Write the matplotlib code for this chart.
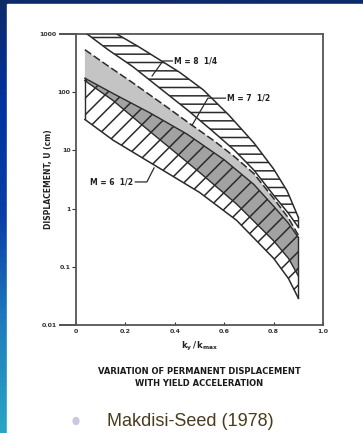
#!/usr/bin/env python3

import numpy as np
import matplotlib
matplotlib.use('Agg')
import matplotlib.pyplot as plt
from matplotlib.patches import Rectangle, Circle
from matplotlib.colors import LinearSegmentedColormap

# Band edges (x = ky/kmax, y = displacement U in cm)
m825_upper_x = [0.165, 0.25, 0.33, 0.42, 0.515, 0.62, 0.72, 0.80, 0.855, 0.90]
m825_upper_y = [1000, 617, 380, 219, 110, 40, 13.5, 4.8, 2.0, 0.71]
m825_lower_x = [0.045, 0.13, 0.23, 0.34, 0.45, 0.55, 0.64, 0.72, 0.80, 0.86, 0.90]
m825_lower_y = [1000, 537, 275, 117, 50, 22, 10.2, 4.6, 1.7, 0.83, 0.48]

m75_upper_x = [0.036, 0.13, 0.23, 0.35, 0.47, 0.56, 0.64, 0.72, 0.80, 0.86, 0.90]
m75_upper_y = [537, 282, 145, 63, 27, 14.5, 7.9, 4.0, 1.5, 0.69, 0.35]
m75_lower_x = [0.036, 0.15, 0.30, 0.50, 0.65, 0.80, 0.86, 0.90]
m75_lower_y = [158, 72, 21, 4.2, 1.2, 0.28, 0.14, 0.07]

m65_upper_x = [0.036, 0.15, 0.30, 0.45, 0.60, 0.72, 0.80, 0.86, 0.90]
m65_upper_y = [174, 95, 44, 19, 6.9, 2.6, 1.1, 0.56, 0.32]
m65_lower_x = [0.036, 0.15, 0.32, 0.50, 0.65, 0.80, 0.86, 0.90]
m65_lower_y = [34, 15, 5.5, 1.9, 0.63, 0.14, 0.063, 0.029]

x_ticks = [0, 0.2, 0.4, 0.6, 0.8, 1.0]
x_tick_labels = ['0', '0.2', '0.4', '0.6', '0.8', '1.0']
y_ticks = [0.01, 0.1, 1, 10, 100, 1000]
y_tick_labels = ['0.01', '0.1', '1', '10', '100', '1000']

# label text position, then pointer line
label_825 = ('M = 8  1/4', 0.395, 344, [0.39, 0.352, 0.308], [344, 344, 190])
label_75 = ('M = 7  1/2', 0.612, 79, [0.605, 0.534, 0.470], [79, 79, 27])
label_65 = ('M = 6  1/2', 0.232, 2.87, [0.24, 0.287, 0.316], [2.87, 2.87, 5.0])

line_col = '#2b2b2b'
plt.rcParams['hatch.linewidth'] = 1.1

fig = plt.figure(figsize=(3.63, 4.33), dpi=100)

# blue slide background + white panel
bg = fig.add_axes([0, 0, 1, 1], zorder=-10)
bg.set_axis_off()
cmap = LinearSegmentedColormap.from_list(
    'slide', ['#0d2a6b', '#0033a0', '#0a3ea6', '#1f7dbd', '#2aa6c4'])
grad = np.linspace(0, 1, 256).reshape(-1, 1)
bg.imshow(grad, aspect='auto', cmap=cmap, extent=[0, 1, 0, 1], origin='upper')
bg.add_patch(Rectangle((7 / 363, 0), 1, 1 - 4 / 433, color='white',
                       transform=bg.transAxes))
bg.add_patch(Circle((76 / 363, 12 / 433), 0.008, color='#c8c8e6',
                    transform=bg.transAxes))
bg.set_xlim(0, 1)
bg.set_ylim(0, 1)

ax = fig.add_axes([76 / 363, 1 - 325 / 433, 247 / 363, 291 / 433])
ax.set_yscale('log')
ax.set_xlim(0, 1.0)
ax.set_ylim(0.01, 1000)


def band(ux, uy, lx, ly):
    return list(ux) + list(lx[::-1]), list(uy) + list(ly[::-1])


# M = 7 1/2 : grey band
gx, gy = band(m75_upper_x, m75_upper_y, m75_lower_x, m75_lower_y)
grey = ax.fill(gx, gy, facecolor='#c4c4c4', edgecolor='none', zorder=1)[0]

# M = 6 1/2 : darker where it overlaps the grey band, diagonal hatch
hx, hy = band(m65_upper_x, m65_upper_y, m65_lower_x, m65_lower_y)
dark = ax.fill(hx, hy, facecolor='#a2a2a2', edgecolor='none', zorder=1.5)[0]
dark.set_clip_path(grey)
ax.fill(hx, hy, facecolor='none', edgecolor=line_col, linewidth=0,
        hatch='//', zorder=2)

# M = 8 1/4 : horizontal hatch
tx, ty = band(m825_upper_x, m825_upper_y, m825_lower_x, m825_lower_y)
ax.fill(tx, ty, facecolor='white', edgecolor=line_col, linewidth=0,
        hatch='--', zorder=2)

# band outlines
ax.plot(m825_upper_x, m825_upper_y, color=line_col, lw=1.1, zorder=3)
ax.plot(m825_lower_x, m825_lower_y, color=line_col, lw=1.1, zorder=3)
ax.plot(m75_upper_x, m75_upper_y, color=line_col, lw=1.1, zorder=3,
        dashes=(5, 2))
ax.plot(m75_lower_x, m75_lower_y, color=line_col, lw=1.0, zorder=3)
ax.plot(m65_upper_x, m65_upper_y, color=line_col, lw=1.0, zorder=3)
ax.plot(m65_lower_x, m65_lower_y, color=line_col, lw=1.1, zorder=3)
# end caps
ax.plot([m825_upper_x[-1], m825_lower_x[-1]], [m825_upper_y[-1], m825_lower_y[-1]],
        color=line_col, lw=1.0, zorder=3)
ax.plot([m65_upper_x[0], m65_lower_x[0]], [m65_upper_y[0], m65_lower_y[0]],
        color=line_col, lw=1.0, zorder=3)
ax.plot([m65_upper_x[-1], m65_lower_x[-1]], [m65_upper_y[-1], m65_lower_y[-1]],
        color=line_col, lw=1.0, zorder=3)

# magnitude labels
for text, tx_, ty_, px, py in [label_825, label_75, label_65]:
    ha = 'right' if text.startswith('M = 6') else 'left'
    ax.text(tx_, ty_, text, fontsize=5.5, fontweight='bold', ha=ha,
            va='center', color='#222222', zorder=4)
    ax.plot(px, py, color=line_col, lw=0.9, zorder=4)

# axes styling
for s in ax.spines.values():
    s.set_color('#555555')
    s.set_linewidth(1.3)
ax.set_xticks(x_ticks)
ax.set_xticklabels(x_tick_labels)
ax.set_yticks(y_ticks)
ax.set_yticklabels(y_tick_labels)
ax.yaxis.set_minor_locator(matplotlib.ticker.NullLocator())
ax.tick_params(axis='y', direction='out', length=3, width=0.8, pad=1,
               labelsize=4.5, colors='#333333')
ax.tick_params(axis='x', direction='in', length=2, width=0.8, pad=3,
               labelsize=4.5, colors='#333333')
for lab in ax.get_xticklabels() + ax.get_yticklabels():
    lab.set_fontweight('bold')
# the end ticks (0.01 and 1000) run out further, as in the original
for tick, val in zip(ax.yaxis.get_major_ticks(), y_ticks):
    if val in (0.01, 1000):
        tick.set_pad(11)
        tick.tick1line.set_markersize(12)
        tick.tick1line.set_markeredgewidth(1.2)
        tick.tick1line.set_color('#555555')

ax.set_ylabel('DISPLACEMENT, U (cm)', fontsize=5.5, fontweight='bold',
              color='#222222')
ax.yaxis.set_label_coords(-0.093, 0.5)
ax.set_xlabel(r'$\mathbf{k_y\,/\,k_{max}}$', fontsize=6, color='#222222',
              labelpad=4)

fig.text(199 / 363, 1 - 371 / 433, 'VARIATION OF PERMANENT DISPLACEMENT',
         ha='center', va='center', fontsize=6, fontweight='bold', color='#1a1a1a')
fig.text(199 / 363, 1 - 383 / 433, 'WITH YIELD ACCELERATION',
         ha='center', va='center', fontsize=6, fontweight='bold', color='#1a1a1a')
fig.text(107 / 363, 1 - 421 / 433, 'Makdisi-Seed (1978)', ha='left',
         va='center', fontsize=13, family='Liberation Sans', color='#4a3b1f')

fig.savefig('out.png', dpi=100)
